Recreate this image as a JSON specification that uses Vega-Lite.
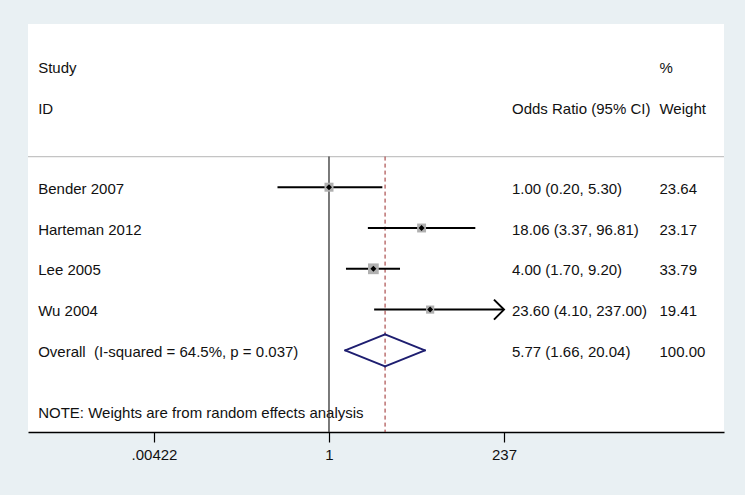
{
  "$schema": "https://vega.github.io/schema/vega-lite/v6.json",
  "width": 696,
  "height": 408,
  "autosize": "none",
  "padding": {"left": 28, "top": 24, "right": 21, "bottom": 63},
  "background": "#e9f0f3",
  "config": {"view": {"stroke": null, "fill": "white"}},
  "data": {"values": [
    {"kind": "header", "row": -1.96, "study": "Study", "ci": "", "wt": "%"},
    {"kind": "header", "row": -0.95, "study": "ID", "ci": "Odds Ratio (95% CI)", "wt": "Weight"},
    {"kind": "study", "row": 1, "study": "Bender 2007", "or": 1.00, "lo": 0.20, "hi": 5.30, "weight": 23.64, "ci": "1.00 (0.20, 5.30)", "wt": "23.64"},
    {"kind": "study", "row": 2, "study": "Harteman 2012", "or": 18.06, "lo": 3.37, "hi": 96.81, "weight": 23.17, "ci": "18.06 (3.37, 96.81)", "wt": "23.17"},
    {"kind": "study", "row": 3, "study": "Lee 2005", "or": 4.00, "lo": 1.70, "hi": 9.20, "weight": 33.79, "ci": "4.00 (1.70, 9.20)", "wt": "33.79"},
    {"kind": "study", "row": 4, "study": "Wu 2004", "or": 23.60, "lo": 4.10, "hi": 237.00, "weight": 19.41, "ci": "23.60 (4.10, 237.00)", "wt": "19.41"},
    {"kind": "overall", "row": 5, "study": "Overall\u00a0 (I-squared = 64.5%, p = 0.037)", "or": 5.77, "lo": 1.66, "hi": 20.04, "weight": 100, "ci": "5.77 (1.66, 20.04)", "wt": "100.00"},
    {"kind": "note", "row": 6.5, "study": "NOTE: Weights are from random effects analysis", "ci": "", "wt": ""}
  ]},
  "encoding": {
    "y": {"field": "row", "type": "quantitative", "scale": {"domain": [-3, 7], "reverse": true, "nice": false, "zero": false}, "axis": null}
  },
  "layer": [
    {
      "mark": {"type": "text", "align": "left", "baseline": "middle", "dy": 1.5, "font": "Liberation Sans", "fontSize": 15, "color": "#111"},
      "encoding": {
        "x": {"datum": 0.00011307, "type": "quantitative", "scale": {"type": "log", "domain": [0.00008223, 229580], "nice": false, "zero": false}, "title": null},
        "text": {"field": "study"}
      }
    },
    {
      "mark": {"type": "text", "align": "left", "baseline": "middle", "dy": 1.5, "font": "Liberation Sans", "fontSize": 15, "color": "#111"},
      "encoding": {
        "x": {"datum": 304.6, "type": "quantitative", "title": null},
        "text": {"field": "ci"}
      }
    },
    {
      "mark": {"type": "text", "align": "left", "baseline": "middle", "dy": 1.5, "font": "Liberation Sans", "fontSize": 15, "color": "#111"},
      "encoding": {
        "x": {"datum": 30575, "type": "quantitative", "title": null},
        "text": {"field": "wt"}
      }
    },
    {
      "transform": [{"filter": "datum.kind == 'overall'"}],
      "mark": {"type": "rule", "color": "#c4c4c4", "strokeWidth": 1.4},
      "encoding": {
        "y": {"datum": 0.25, "type": "quantitative"}
      }
    },
    {
      "transform": [{"filter": "datum.kind == 'overall'"}],
      "mark": {"type": "rule", "color": "#333333", "strokeWidth": 1.3},
      "encoding": {
        "x": {"datum": 1, "type": "quantitative", "title": null},
        "y": {"datum": 0.25, "type": "quantitative"},
        "y2": {"datum": 7}
      }
    },
    {
      "transform": [{"filter": "datum.kind == 'overall'"}],
      "mark": {"type": "rule", "color": "#9b2a2a", "strokeWidth": 1, "strokeDash": [4, 3]},
      "encoding": {
        "x": {"field": "or", "type": "quantitative", "title": null},
        "y": {"datum": 0.25, "type": "quantitative"},
        "y2": {"datum": 7}
      }
    },
    {
      "transform": [{"filter": "datum.kind == 'study'"}],
      "mark": {"type": "rule", "color": "#000", "strokeWidth": 2},
      "encoding": {
        "x": {"field": "lo", "type": "quantitative", "title": null,
              "axis": {"values": [0.00422, 1, 237], "labelExpr": "datum.value < 0.01 ? '.00422' : format(datum.value, 'd')", "title": null, "grid": false, "domainColor": "#000", "domainWidth": 1.5, "tickColor": "#000", "tickSize": 10, "tickWidth": 1.2, "labelFont": "Liberation Sans", "labelFontSize": 15, "labelColor": "#111", "labelPadding": 5, "labelFlush": false, "labelOverlap": false}},
        "x2": {"field": "hi"}
      }
    },
    {
      "transform": [{"filter": "datum.kind == 'study'"}],
      "mark": {"type": "square", "color": "#b0b0b0", "opacity": 1},
      "encoding": {
        "x": {"field": "or", "type": "quantitative", "title": null},
        "size": {"field": "weight", "type": "quantitative", "scale": {"type": "linear", "domain": [0, 100], "range": [0, 343]}, "legend": null}
      }
    },
    {
      "transform": [{"filter": "datum.kind == 'study'"}],
      "mark": {"type": "point", "shape": "diamond", "filled": true, "color": "#000", "size": 36, "opacity": 1},
      "encoding": {
        "x": {"field": "or", "type": "quantitative", "title": null}
      }
    },
    {
      "transform": [{"filter": "datum.kind == 'study' && datum.hi >= 237"}],
      "mark": {"type": "point", "shape": "M -1 -1 L 0 0 L -1 1", "filled": false, "color": "#000", "strokeWidth": 2, "size": 400, "opacity": 1},
      "encoding": {
        "x": {"field": "hi", "type": "quantitative", "title": null}
      }
    },
    {
      "transform": [{"filter": "datum.kind == 'overall'"}],
      "mark": {"type": "rule", "color": "#1e1e70", "strokeWidth": 2, "strokeCap": "round", "y2Offset": -16},
      "encoding": {
        "x": {"field": "lo", "type": "quantitative", "title": null},
        "x2": {"field": "or"},
        "y2": {"field": "row"}
      }
    },
    {
      "transform": [{"filter": "datum.kind == 'overall'"}],
      "mark": {"type": "rule", "color": "#1e1e70", "strokeWidth": 2, "strokeCap": "round", "y2Offset": 16},
      "encoding": {
        "x": {"field": "lo", "type": "quantitative", "title": null},
        "x2": {"field": "or"},
        "y2": {"field": "row"}
      }
    },
    {
      "transform": [{"filter": "datum.kind == 'overall'"}],
      "mark": {"type": "rule", "color": "#1e1e70", "strokeWidth": 2, "strokeCap": "round", "yOffset": -16},
      "encoding": {
        "x": {"field": "or", "type": "quantitative", "title": null},
        "x2": {"field": "hi"},
        "y2": {"field": "row"}
      }
    },
    {
      "transform": [{"filter": "datum.kind == 'overall'"}],
      "mark": {"type": "rule", "color": "#1e1e70", "strokeWidth": 2, "strokeCap": "round", "yOffset": 16},
      "encoding": {
        "x": {"field": "or", "type": "quantitative", "title": null},
        "x2": {"field": "hi"},
        "y2": {"field": "row"}
      }
    }
  ]
}
